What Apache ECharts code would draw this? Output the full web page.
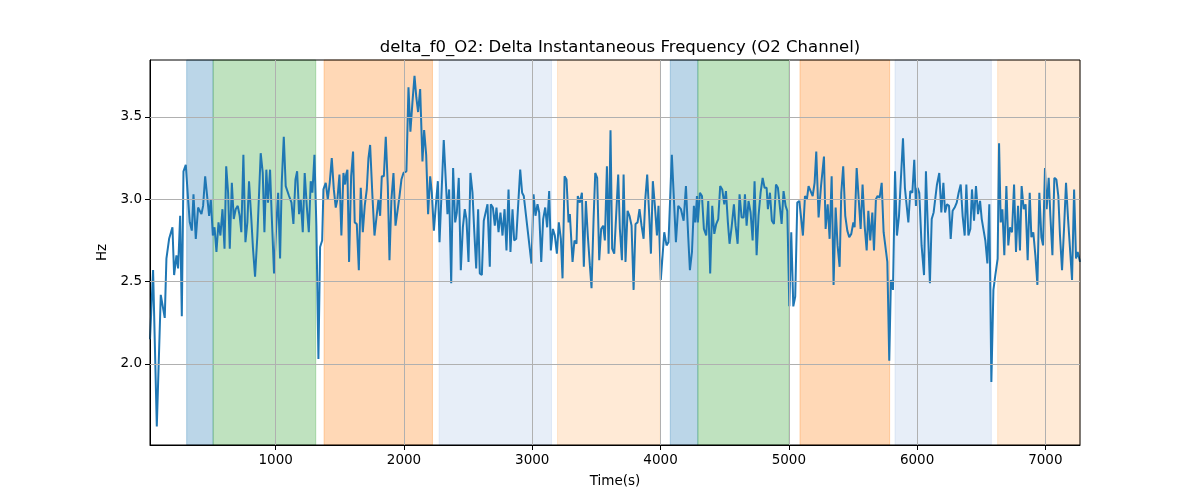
<!DOCTYPE html>
<html><head><meta charset="utf-8">
<script src="https://cdn.jsdelivr.net/npm/echarts@6/dist/echarts.min.js"></script>
<style>html,body{margin:0;padding:0;background:#fff}#c{width:1200px;height:500px}</style>
</head><body><div id="c"></div>
<script>
const times = [20,44,73,104,135,148,169,195,208,226,239,255,268,281,299,317,330,346,359,377,395,408,421,434,450,468,481,494,510,523,538,554,569,585,601,614,629,642,658,673,688,704,719,732,748,764,779,792,810,823,839,857,883,899,912,927,940,956,969,987,1003,1019,1034,1047,1063,1078,1091,1104,1123,1138,1154,1167,1182,1195,1211,1226,1242,1258,1273,1286,1302,1317,1333,1346,1362,1372,1390,1406,1421,1437,1453,1468,1481,1497,1512,1528,1541,1549,1559,1572,1588,1603,1616,1632,1648,1663,1679,1694,1710,1723,1736,1754,1770,1785,1801,1814,1827,1843,1858,1874,1887,1902,1918,1934,1949,1965,1980,1996,2019,2035,2050,2066,2082,2096,2110,2126,2144,2157,2173,2188,2204,2217,2233,2248,2264,2277,2295,2310,2323,2339,2352,2368,2383,2399,2412,2427,2443,2459,2474,2487,2503,2518,2534,2547,2563,2578,2591,2607,2622,2635,2651,2669,2677,2693,2708,2721,2737,2752,2768,2784,2799,2815,2830,2846,2859,2875,2890,2906,2921,2934,2994,3010,3025,3041,3054,3070,3085,3101,3116,3132,3145,3161,3176,3192,3207,3223,3236,3252,3267,3283,3293,3314,3329,3345,3355,3371,3387,3402,3418,3433,3449,3462,3478,3491,3506,3522,3537,3553,3566,3582,3595,3610,3623,3639,3654,3670,3683,3699,3712,3727,3743,3758,3774,3790,3805,3821,3836,3852,3868,3881,3896,3912,3925,3940,3956,3972,3984,4002,4029,4047,4062,4088,4120,4138,4159,4180,4198,4216,4229,4245,4260,4271,4284,4291,4307,4323,4338,4356,4372,4387,4403,4419,4434,4450,4465,4481,4497,4510,4525,4538,4554,4572,4585,4601,4616,4632,4648,4658,4671,4686,4702,4718,4733,4749,4764,4780,4796,4811,4827,4837,4853,4868,4884,4900,4915,4928,4944,4959,4975,4988,5004,5019,5035,5050,5066,5082,5095,5110,5126,5141,5154,5170,5186,5201,5214,5232,5251,5274,5287,5303,5318,5334,5349,5365,5380,5396,5409,5424,5440,5456,5471,5487,5503,5513,5529,5544,5560,5575,5591,5607,5620,5635,5651,5664,5679,5692,5708,5724,5739,5768,5783,5796,5812,5828,5843,5859,5874,5890,5905,5932,5947,5963,5978,5991,6004,6017,6035,6054,6069,6085,6100,6114,6129,6142,6155,6173,6189,6205,6218,6233,6249,6262,6277,6293,6309,6324,6340,6355,6371,6384,6400,6415,6428,6444,6459,6475,6491,6504,6519,6532,6548,6563,6579,6595,6610,6628,6639,6652,6665,6680,6696,6711,6724,6740,6756,6771,6787,6802,6815,6831,6846,6862,6878,6891,6906,6922,6938,6953,6969,6982,6997,7010,7026,7039,7055,7070,7086,7101,7114,7130,7146,7161,7177,7190,7208,7224,7239,7252,7270];
const values = [2.15,2.57,1.62,2.42,2.28,2.64,2.76,2.83,2.54,2.66,2.58,2.90,2.29,3.17,3.21,3.00,2.86,2.81,3.03,2.76,2.95,2.96,2.91,2.96,3.14,3.00,2.90,3.00,2.78,2.83,2.68,2.86,2.78,2.94,2.70,3.20,3.04,2.70,3.10,2.88,2.94,2.96,2.90,2.80,3.27,2.74,2.86,3.11,2.88,2.70,2.53,2.78,3.28,3.16,2.80,3.18,2.98,3.18,2.90,2.55,2.82,3.04,2.64,3.10,3.38,3.08,3.08,3.02,2.98,2.85,3.12,3.17,2.91,3.00,2.80,3.16,2.96,2.80,3.11,3.04,3.27,2.84,2.03,2.71,2.75,3.06,3.10,3.00,3.10,3.25,3.06,2.95,3.00,3.15,2.78,3.16,3.09,3.15,3.18,2.62,3.14,3.29,2.86,2.85,2.57,3.07,2.80,2.96,3.06,3.25,3.33,3.02,2.78,2.78,3.00,2.90,3.14,3.14,3.38,3.08,2.63,3.00,3.16,2.84,2.84,3.02,3.12,3.16,3.17,3.68,3.41,3.59,3.75,3.62,3.53,3.67,3.23,3.42,3.27,2.91,3.14,3.04,2.81,2.96,3.11,2.74,3.08,3.36,3.35,2.91,3.06,2.49,3.19,2.86,2.92,3.13,2.57,2.83,2.94,2.88,2.62,3.16,3.04,2.82,2.58,2.94,2.55,2.54,2.87,2.86,2.97,2.59,2.97,2.95,2.84,2.95,2.80,2.92,2.78,2.94,2.69,3.06,2.68,2.94,2.75,2.76,2.75,3.18,3.04,3.02,2.61,3.03,2.90,2.97,2.92,2.62,2.88,2.95,2.83,3.05,2.69,2.82,2.78,2.67,2.86,2.76,2.52,3.14,3.12,2.86,2.91,2.62,2.75,2.73,3.02,2.98,3.04,2.59,2.99,2.78,2.60,2.46,2.88,3.16,3.13,2.63,2.82,2.84,2.75,3.20,2.67,3.42,2.70,2.67,2.68,3.15,2.82,2.63,3.15,2.62,2.93,2.90,2.84,2.45,2.85,2.86,2.94,2.84,2.76,3.00,3.15,2.90,2.67,3.11,2.96,2.78,2.96,2.51,2.80,2.72,2.74,3.27,2.74,2.96,2.94,2.87,3.08,2.77,2.57,2.68,2.96,2.86,3.02,2.86,3.04,3.02,2.82,2.78,2.99,2.55,2.96,2.79,2.85,2.88,3.08,3.06,2.97,3.05,2.86,2.73,2.83,2.97,2.84,2.73,3.03,2.89,2.89,3.03,2.84,2.99,2.92,2.75,3.11,2.66,2.90,3.04,3.13,3.07,3.07,2.94,3.04,2.87,2.85,3.09,3.07,3.08,2.85,3.05,2.96,2.93,2.35,2.80,2.35,2.41,2.98,2.99,2.98,2.78,3.02,3.00,3.08,3.05,3.02,3.10,3.29,2.89,3.08,3.26,2.82,2.97,2.76,3.14,2.48,2.95,2.72,2.59,3.04,3.20,2.90,2.81,2.77,2.79,2.86,2.83,3.19,3.19,2.82,3.09,2.84,2.69,2.93,2.75,2.92,2.69,3.00,3.02,3.01,3.10,2.80,2.62,2.02,2.51,2.45,3.17,2.78,2.90,2.90,3.37,3.07,2.86,3.05,3.04,3.24,2.96,3.07,3.04,2.72,2.54,3.17,2.80,2.49,2.88,2.92,2.92,3.09,3.16,2.92,3.10,2.92,2.97,2.96,2.76,2.93,2.95,2.98,3.04,3.09,2.90,2.78,3.09,2.78,2.82,3.06,2.87,3.08,2.91,2.99,2.88,2.81,2.75,2.61,2.97,1.89,2.45,2.54,2.64,3.34,2.86,2.94,2.66,3.08,2.72,2.83,2.80,3.09,2.68,2.96,2.69,3.08,2.94,2.97,2.63,3.04,2.77,2.80,2.66,2.48,3.04,2.77,2.72,3.19,2.94,3.13,2.90,2.66,3.13,3.12,3.02,2.78,2.57,2.83,3.10,2.88,2.88,2.51,3.06,2.64,2.68,2.62];
const bandStart = [306, 512, 1377, 2274, 3197, 4076, 4291, 5087, 5828, 6628];
const bandEnd   = [512, 1312, 2222, 3150, 3998, 4291, 5003, 5786, 6579, 7270];
const bandKind  = ['A','B','C','D','E','A','B','C','D','E'];
const xTicks = [1000,2000,3000,4000,5000,6000,7000];
const yTicks = [2.0,2.5,3.0,3.5];
const xRange = [20, 7270];
const yRange = [1.508, 3.846];

const kindColor = {
  A: 'rgba(31,119,180,0.3)',
  B: 'rgba(44,160,44,0.3)',
  C: 'rgba(255,127,14,0.3)',
  D: 'rgba(174,199,232,0.3)',
  E: 'rgba(255,187,120,0.3)'
};
const FONT = 'DejaVu Sans';
const chart = echarts.init(document.getElementById('c'), null, {renderer:'canvas'});
const areas = bandStart.map((s,i)=>[
  {xAxis:s, itemStyle:{color:kindColor[bandKind[i]], borderColor:kindColor[bandKind[i]], borderWidth:1}},
  {xAxis:bandEnd[i]}
]);
const gridLineStyle = {color:'#b0b0b0', width:1, type:'solid'};
chart.setOption({
  animation:false,
  backgroundColor:'#fff',
  title:{text:'delta_f0_O2: Delta Instantaneous Frequency (O2 Channel)', left:615, top:34, textAlign:'center',
    textStyle:{fontFamily:FONT, fontSize:16.5, fontWeight:'normal', color:'#000'}},
  grid:{left:150, right:120, top:60, bottom:55, show:true, borderColor:'#000', borderWidth:1, backgroundColor:'transparent', z:4},
  xAxis:{type:'value', min:xRange[0], max:xRange[1], z:2,
    name:'Time(s)', nameLocation:'middle', nameGap:29,
    nameTextStyle:{fontFamily:FONT, fontSize:13.5, color:'#000'},
    axisLine:{show:true, onZero:false, lineStyle:{color:'#000', width:1}},
    axisTick:{show:true, length:5, lineStyle:{color:'#000'}, customValues:xTicks},
    axisLabel:{fontFamily:FONT, fontSize:13.5, color:'#000', margin:8, customValues:xTicks, formatter:v=>String(v)},
    splitLine:{show:false}
  },
  yAxis:{type:'value', min:yRange[0], max:yRange[1], z:2,
    name:'Hz', nameLocation:'middle', nameGap:38,
    nameTextStyle:{fontFamily:FONT, fontSize:13.5, color:'#000'},
    axisLine:{show:true, onZero:false, lineStyle:{color:'#000', width:1}},
    axisTick:{show:true, length:5, lineStyle:{color:'#000'}, customValues:yTicks},
    axisLabel:{fontFamily:FONT, fontSize:13.5, color:'#000', margin:8, customValues:yTicks, formatter:v=>v.toFixed(1)},
    splitLine:{show:false}
  },
  series:[
    {type:'line', data:[], z:1, silent:true,
      markArea:{silent:true, data:areas}},
    {type:'line', data:[], z:2, silent:true,
      markLine:{silent:true, symbol:'none', label:{show:false}, lineStyle:gridLineStyle,
        data:[...xTicks.map(v=>({xAxis:v})), ...yTicks.map(v=>({yAxis:v}))]}},
    {type:'line', z:3, showSymbol:false, symbol:'none',
      data:times.map((t,i)=>[t, values[i]]),
      lineStyle:{color:'#1f77b4', width:2}, itemStyle:{color:'#1f77b4'}}
  ]
});
</script></body></html>
